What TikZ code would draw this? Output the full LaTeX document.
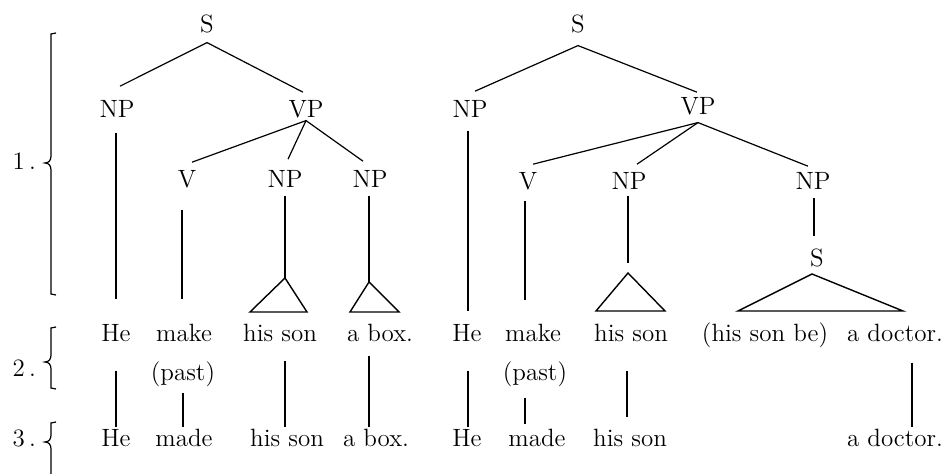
\documentclass[tikz,border=0pt]{standalone}
\usepackage{fontspec}
\usetikzlibrary{calc}
\tikzset{
  w/.style={inner sep=0pt, anchor=base, text height=8.6pt, text depth=0pt, font=\fontsize{12.5}{15}\selectfont},
  tri/.style={line width=0.7pt, line join=miter},
}
\begin{document}
\begin{tikzpicture}[x=0.5pt,y=-0.5pt,line width=0.6pt]
\fill[white] (0,0) rectangle (948,474);
\useasboundingbox (0,0) rectangle (948,474);

% ---------- labels and braces ----------
\node[w,anchor=base west] (L1) at (12,170) {1\,.};
\node[w,anchor=base west] (L2) at (12,377) {2\,.};
\node[w,anchor=base west] (L3) at (12,447) {3\,.};
\draw (56,33) -- (51,34) -- (51,156) .. controls (51,160) and (49,163) .. (45,163)
      .. controls (49,163) and (51,166) .. (51,170) -- (51,294) -- (56,295);
\draw (56,327) -- (51,328) -- (51,355) .. controls (51,359) and (49,362) .. (45,362)
      .. controls (49,362) and (51,365) .. (51,369) -- (51,388) -- (56,389);
\draw (56,422) -- (51,423) -- (51,435) .. controls (51,439) and (49,442) .. (45,442)
      .. controls (49,442) and (51,445) .. (51,449) -- (51,474);

% ---------- left tree ----------
\node[w] (Sa) at (207,33) {S};
\node[w] (NPa) at (117,118) {NP};
\node[w] (VPa) at (306,118) {VP};
\node[w] (Va) at (187,188) {V};
\node[w] (NPb) at (285,188) {NP};
\node[w] (NPc) at (370,188) {NP};

\node[w] (He2a) at (116,342) {He};
\node[w] (make2a) at (184,342) {make};
\node[w] (hs2a) at (280,342) {his son};
\node[w] (box2a) at (380,342) {a box.};
\node[w] (pasta) at (183,381) {(past)};
\node[w] (He3a) at (116,447) {He};
\node[w] (made3a) at (184,447) {made};
\node[w] (hs3a) at (287,447) {his son};
\node[w] (box3a) at (376,447) {a box.};

\coordinate (xa1) at (116,0);
\coordinate (xa2) at (182,0);
\coordinate (xa2b) at (183,0);
\coordinate (xa3) at (285,0);
\coordinate (xa4) at (369,0);
\coordinate (ta) at (285,278);
\coordinate (tb) at (369,282);

\draw ([yshift=-4.5pt]Sa.south) -- ([xshift=1.5pt,yshift=7pt]NPa.north);
\draw ([yshift=-4.5pt]Sa.south) -- ([xshift=-1.5pt,yshift=4pt]VPa.north);
\draw ([yshift=-1pt]VPa.south) -- ([xshift=2.5pt,yshift=4pt]Va.north);
\draw ([yshift=-1pt]VPa.south) -- ([xshift=1.5pt,yshift=5.5pt]NPb.north);
\draw ([yshift=-1pt]VPa.south) -- ([xshift=-3.5pt,yshift=4.5pt]NPc.north);

\draw ($(NPa.south -| xa1)+(0,-7pt)$) -- ($(He2a.north -| xa1)+(0,12.5pt)$);
\draw ($(Va.south -| xa2)+(0,-10.5pt)$) -- ($(make2a.north -| xa2)+(0,12.5pt)$);
\draw ($(NPb.south -| xa3)+(0,-3.5pt)$) -- (ta);
\draw ($(NPc.south -| xa4)+(0,-3.5pt)$) -- (tb);
\draw[tri] (ta) -- (250,312) -- (307,312) -- cycle;
\draw[tri] (tb) -- (350,312) -- (399,312) -- cycle;

\draw ($(He2a.south -| xa1)+(0,-14pt)$) -- ($(He3a.north -| xa1)+(0,1pt)$);
\draw ($(pasta.south -| xa2b)+(0,-5.5pt)$) -- ($(made3a.north -| xa2b)+(0,1pt)$);
\draw ($(hs2a.south -| xa3)+(0,-9pt)$) -- ($(hs3a.north -| xa3)+(0,1pt)$);
\draw ($(box2a.south -| xa4)+(0,-6.5pt)$) -- ($(box3a.north -| xa4)+(0,1pt)$);

% ---------- right tree ----------
\node[w] (Sb) at (578,33) {S};
\node[w] (NPd) at (470,118) {NP};
\node[w] (VPb) at (698,115) {VP};
\node[w] (Vb) at (528,190) {V};
\node[w] (NPe) at (629,190) {NP};
\node[w] (NPf) at (813,190) {NP};
\node[w] (S2) at (817,267) {S};

\node[w] (He2b) at (467,342) {He};
\node[w] (make2b) at (533,342) {make};
\node[w] (hs2b) at (631,342) {his son};
\node[w] (hsbe) at (765,342) {(his son be)};
\node[w] (doc2) at (895,342) {a doctor.};
\node[w] (pastb) at (535,381) {(past)};
\node[w] (He3b) at (467,447) {He};
\node[w] (made3b) at (537,447) {made};
\node[w] (hs3b) at (630,447) {his son};
\node[w] (doc3) at (895,447) {a doctor.};

\coordinate (xb1) at (468,0);
\coordinate (xb2) at (525,0);
\coordinate (xb3) at (628,0);
\coordinate (xb3b) at (627,0);
\coordinate (xb4) at (814,0);
\coordinate (xb5) at (912,0);
\coordinate (tc) at (628,273);
\coordinate (td) at (812,274);

\draw ([yshift=-6pt]Sb.south) -- ([xshift=2.5pt,yshift=4.5pt]NPd.north);
\draw ([yshift=-6pt]Sb.south) -- ([xshift=-0.5pt,yshift=2.5pt]VPb.north);
\draw ([yshift=-3.5pt]VPb.south) -- ([xshift=2.5pt,yshift=4pt]Vb.north);
\draw ([yshift=-3.5pt]VPb.south) -- ([xshift=4pt,yshift=4pt]NPe.north);
\draw ([yshift=-3.5pt]VPb.south) -- ([xshift=-2.5pt,yshift=3pt]NPf.north);

\draw ($(NPd.south -| xb1)+(0,-6pt)$) -- ($(He2b.north -| xb1)+(0,6.5pt)$);
\draw ($(Vb.south -| xb2)+(0,-5pt)$) -- ($(make2b.north -| xb2)+(0,12pt)$);
\draw[shorten >=5pt] ($(NPe.south -| xb3)+(0,-2.5pt)$) -- (tc);
\draw ($(NPf.south -| xb4)+(0,-3.5pt)$) -- ($(S2.north -| xb4)+(0,6.5pt)$);
\draw[tri] (tc) -- (596,311) -- (665,311) -- cycle;
\draw[tri] (td) -- (738,311) -- (903,311) -- cycle;

\draw ($(He2b.south -| xb1)+(0,-14pt)$) -- ($(He3b.north -| xb1)+(0,1pt)$);
\draw ($(pastb.south -| xb2)+(0,-8pt)$) -- ($(made3b.north -| xb2)+(0,2.5pt)$);
\draw ($(hs2b.south -| xb3b)+(0,-14pt)$) -- ($(hs3b.north -| xb3b)+(0,6pt)$);
\draw ($(doc2.south -| xb5)+(0,-10pt)$) -- ($(doc3.north -| xb5)+(0,1pt)$);
\end{tikzpicture}
\end{document}
